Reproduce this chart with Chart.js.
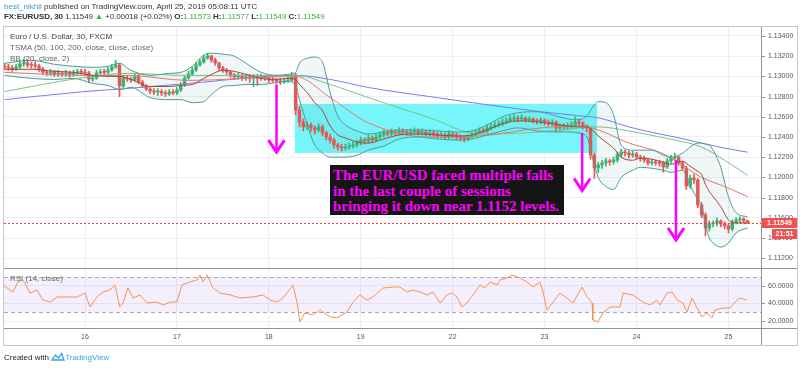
<!DOCTYPE html>
<html>
<head>
<meta charset="utf-8">
<script src="https://cdn.jsdelivr.net/npm/chart.js@4.4.1/dist/chart.umd.min.js"></script>
<style>
  body { margin: 0; background: #fff; }
  #wrap { position: relative; width: 800px; height: 368px; overflow: hidden; font-family: "Liberation Sans", Arial, sans-serif; }
  #c { position: absolute; left: 0; top: 0; }
  .t { position: absolute; white-space: nowrap; font-size: 8px; line-height: 10px; color: #333; }
  .g { color: #34b33d; }
  .leg { color: #666; }
  #note { position: absolute; left: 330px; top: 165px; width: 234px; height: 50px; background: #151515;
          box-sizing: border-box; padding: 3px 0 0 3px; font-family: "Liberation Serif", "Times New Roman", serif;
          font-weight: bold; font-size: 15px; line-height: 15.5px; color: #f0f; white-space: nowrap; }
</style>
</head>
<body>
<div id="wrap">
  <canvas id="c" width="800" height="368"></canvas>
  <div class="t" style="left:4px;top:2px"><span style="color:#3a9ad9">best_nikhil</span> published on TradingView.com, April 25, 2019 05:08:11 UTC</div>
  <div class="t" style="left:4px;top:12px;letter-spacing:-0.08px"><b>FX:EURUSD, 30</b> 1.11549 <span class="g">▲</span> +0.00018 (+0.02%) <b>O:</b><span class="g">1.11573</span> <b>H:</b><span class="g">1.11577</span> <b>L:</b><span class="g">1.11549</span> <b>C:</b><span class="g">1.11549</span></div>
  <div class="t" style="left:10px;top:32px;color:#444">Euro / U.S. Dollar, 30, FXCM</div>
  <div class="t leg" style="left:10px;top:43px">TSMA (50, 100, 200, close, close, close)</div>
  <div class="t leg" style="left:10px;top:54px">BB (20, close, 2)</div>
  <div class="t leg" style="left:10px;top:274px">RSI (14, close)</div>
  <div id="note">The EUR/USD faced multiple falls<br>in the last couple of sessions<br>bringing it down near 1.1152 levels.</div>
  <div class="t" style="left:4px;top:352px;color:#222">Created with
    <svg width="14" height="9" style="vertical-align:-1px"><path d="M1 8 L4.5 3 L7.5 6 L10.5 1.5 L13 8 Z" fill="none" stroke="#39a3e0" stroke-width="1.3"/></svg><span style="color:#39a3e0">TradingView</span></div>
</div>
<script>
// x = hours from Apr 16 00:00 on the trading timeline (weekend skipped), hourly candles
const dayTicks = [0, 24, 48, 72, 96, 120, 144, 168];
const dayLabels = ['16', '17', '18', '19', '22', '23', '24', '25'];
const priceTicks = [1.112, 1.114, 1.116, 1.118, 1.120, 1.122, 1.124, 1.126, 1.128, 1.130, 1.132, 1.134];
const rsiTicks = [20, 40, 60];
const rsiBand = [30, 70];

const firstIdx = -21;
const firstOpen = 1.13100;
const closes = [
  1.13093, 1.13083, 1.13073, 1.13093, 1.13123, 1.13133, 1.13113, 1.13110, 1.13103, 1.13073,
  1.13044, 1.13034, 1.13044, 1.13024, 1.13034, 1.13024, 1.13034, 1.13020, 1.13034, 1.13044,
  1.13040, 1.13034, 1.12974, 1.12984, 1.13034, 1.13044, 1.13040, 1.13063, 1.13093, 1.13113,
  1.12905, 1.12984, 1.12974, 1.12964, 1.13004, 1.12945, 1.12905, 1.12875, 1.12855, 1.12846,
  1.12850, 1.12836, 1.12826, 1.12846, 1.12836, 1.12865, 1.12915, 1.12984, 1.13024, 1.13063,
  1.13113, 1.13143, 1.13182, 1.13202, 1.13162, 1.13133, 1.13083, 1.13063, 1.13044, 1.13014,
  1.12994, 1.13004, 1.12984, 1.12994, 1.12984, 1.12994, 1.12984, 1.12994, 1.12984, 1.12964,
  1.12960, 1.12955, 1.12945, 1.12955, 1.12964, 1.13014, 1.12667, 1.12549, 1.12499, 1.12519,
  1.12489, 1.12469, 1.12499, 1.12440, 1.12400, 1.12370, 1.12321, 1.12301, 1.12291, 1.12301,
  1.12311, 1.12321, 1.12341, 1.12370, 1.12361, 1.12390, 1.12370, 1.12400, 1.12420, 1.12440,
  1.12430, 1.12450, 1.12440, 1.12460, 1.12450, 1.12440, 1.12450, 1.12460, 1.12440, 1.12450,
  1.12430, 1.12440, 1.12430, 1.12410, 1.12420, 1.12400, 1.12430, 1.12420, 1.12400, 1.12390,
  1.12380, 1.12400, 1.12420, 1.12440, 1.12460, 1.12455, 1.12489, 1.12499, 1.12519, 1.12529,
  1.12549, 1.12559, 1.12578, 1.12588, 1.12578, 1.12588, 1.12568, 1.12578, 1.12559, 1.12555,
  1.12568, 1.12549, 1.12539, 1.12549, 1.12489, 1.12509, 1.12499, 1.12509, 1.12519, 1.12549,
  1.12539, 1.12509, 1.12489, 1.12222, 1.12093, 1.12123, 1.12143, 1.12163, 1.12153, 1.12172,
  1.12222, 1.12252, 1.12242, 1.12222, 1.12232, 1.12202, 1.12192, 1.12172, 1.12143, 1.12153,
  1.12143, 1.12140, 1.12103, 1.12163, 1.12192, 1.12202, 1.12143, 1.12093, 1.11915, 1.11994,
  1.11974, 1.11727, 1.11628, 1.11499, 1.11539, 1.11549, 1.11569, 1.11539, 1.11519, 1.11489,
  1.11559, 1.11578, 1.11588, 1.11573, 1.11549
];
const highs = [
  1.1313, 1.1312, 1.1311, 1.1312, 1.1315, 1.1317, 1.1316, 1.1314, 1.1314, 1.1312,
  1.1309, 1.1306, 1.1307, 1.1306, 1.1306, 1.1305, 1.1306, 1.1305, 1.1306, 1.1307,
  1.1307, 1.1307, 1.1305, 1.1301, 1.1306, 1.1307, 1.1307, 1.1309, 1.1312, 1.1316,
  1.1313, 1.1301, 1.1301, 1.1299, 1.1303, 1.1302, 1.1296, 1.1292, 1.1289, 1.1288,
  1.1288, 1.1287, 1.1286, 1.1287, 1.1287, 1.1289, 1.1294, 1.1300, 1.1305, 1.1309,
  1.1314, 1.1317, 1.1321, 1.1323, 1.1321, 1.1318, 1.1314, 1.1310, 1.1308, 1.1305,
  1.1303, 1.1303, 1.1302, 1.1302, 1.1302, 1.1302, 1.1302, 1.1302, 1.1301, 1.1300,
  1.1299, 1.1298, 1.1298, 1.1298, 1.1300, 1.1304, 1.1303, 1.1270, 1.1258, 1.1255,
  1.1254, 1.1251, 1.1253, 1.1252, 1.1246, 1.1243, 1.1239, 1.1234, 1.1233, 1.1233,
  1.1234, 1.1235, 1.1237, 1.1240, 1.1239, 1.1242, 1.1241, 1.1243, 1.1245, 1.1247,
  1.1246, 1.1248, 1.1247, 1.1249, 1.1248, 1.1247, 1.1248, 1.1249, 1.1248, 1.1248,
  1.1247, 1.1247, 1.1246, 1.1245, 1.1245, 1.1244, 1.1246, 1.1245, 1.1244, 1.1242,
  1.1241, 1.1242, 1.1245, 1.1247, 1.1249, 1.1249, 1.1252, 1.1253, 1.1255, 1.1256,
  1.1258, 1.1259, 1.1261, 1.1262, 1.1261, 1.1262, 1.1260, 1.1260, 1.1259, 1.1258,
  1.1259, 1.1258, 1.1257, 1.1257, 1.1256, 1.1253, 1.1253, 1.1254, 1.1255, 1.1260,
  1.1258, 1.1255, 1.1252, 1.1250, 1.1224, 1.1215, 1.1217, 1.1219, 1.1218, 1.1220,
  1.1225, 1.1228, 1.1227, 1.1226, 1.1226, 1.1225, 1.1222, 1.1221, 1.1219, 1.1218,
  1.1217, 1.1217, 1.1216, 1.1219, 1.1222, 1.1224, 1.1221, 1.1216, 1.1211, 1.1202,
  1.1203, 1.1199, 1.1175, 1.1165, 1.1157, 1.1157, 1.1160, 1.1158, 1.1156, 1.1154,
  1.1158, 1.1160, 1.1161, 1.1160, 1.11577
];
const lows = [
  1.1307, 1.1306, 1.1305, 1.1306, 1.1308, 1.1310, 1.1309, 1.1308, 1.1308, 1.1305,
  1.1302, 1.1301, 1.1301, 1.1300, 1.1300, 1.1300, 1.1300, 1.1299, 1.1300, 1.1301,
  1.1302, 1.1301, 1.1294, 1.1295, 1.1297, 1.1302, 1.1302, 1.1303, 1.1305, 1.1308,
  1.1280, 1.1289, 1.1295, 1.1294, 1.1295, 1.1293, 1.1289, 1.1286, 1.1283, 1.1282,
  1.1281, 1.1281, 1.1280, 1.1281, 1.1282, 1.1282, 1.1285, 1.1290, 1.1297, 1.1301,
  1.1305, 1.1310, 1.1313, 1.1317, 1.1314, 1.1311, 1.1306, 1.1304, 1.1302, 1.1299,
  1.1297, 1.1297, 1.1296, 1.1296, 1.1294, 1.1290, 1.1291, 1.1296, 1.1296, 1.1294,
  1.1294, 1.1293, 1.1292, 1.1293, 1.1294, 1.1295, 1.1262, 1.1250, 1.1246, 1.1247,
  1.1245, 1.1243, 1.1245, 1.1241, 1.1237, 1.1234, 1.1229, 1.1227, 1.1226, 1.1227,
  1.1228, 1.1229, 1.1230, 1.1232, 1.1233, 1.1234, 1.1235, 1.1236, 1.1238, 1.1240,
  1.1241, 1.1241, 1.1242, 1.1242, 1.1243, 1.1242, 1.1242, 1.1243, 1.1242, 1.1242,
  1.1241, 1.1241, 1.1240, 1.1239, 1.1239, 1.1238, 1.1238, 1.1239, 1.1237, 1.1236,
  1.1235, 1.1236, 1.1239, 1.1241, 1.1243, 1.1243, 1.1244, 1.1247, 1.1249, 1.1250,
  1.1251, 1.1253, 1.1255, 1.1256, 1.1255, 1.1256, 1.1255, 1.1255, 1.1254, 1.1253,
  1.1253, 1.1252, 1.1251, 1.1251, 1.1245, 1.1246, 1.1247, 1.1247, 1.1249, 1.1250,
  1.1251, 1.1248, 1.1245, 1.1218, 1.1199, 1.1205, 1.1209, 1.1211, 1.1212, 1.1213,
  1.1215, 1.1220, 1.1221, 1.1219, 1.1220, 1.1218, 1.1216, 1.1215, 1.1212, 1.1212,
  1.1212, 1.1211, 1.1205, 1.1209, 1.1214, 1.1217, 1.1212, 1.1207, 1.1188, 1.1189,
  1.1194, 1.1170, 1.1160, 1.1142, 1.1147, 1.1151, 1.1152, 1.1151, 1.1149, 1.1145,
  1.1147, 1.1154, 1.1155, 1.1155, 1.11549
];

// Bollinger Bands (20, close, 2)
const bbX = [-21, -14, -8, -3, 2, 6, 9, 12, 17, 22, 25, 28, 31, 33, 36, 39, 42, 46, 50, 53,
  55, 56, 58, 60, 62, 64, 66, 68, 71, 74, 78, 82, 87, 92, 97, 101, 105, 109, 113, 118,
  122, 126, 129, 131, 133, 134, 136, 138, 140, 143, 145, 148, 151, 153, 156, 158, 160, 161, 162, 163,
  164, 166, 168, 170, 173];
const bbUpper = [1.1313, 1.1316, 1.1312, 1.1310, 1.1309, 1.1310, 1.1313, 1.1306, 1.1301, 1.1303,
  1.1304, 1.1310, 1.1321, 1.1323, 1.1322, 1.1320, 1.1313, 1.1304, 1.1301, 1.1302,
  1.1304, 1.1313, 1.1318, 1.1319, 1.1314, 1.1284, 1.1261, 1.1252, 1.1246, 1.1243,
  1.1245, 1.1247, 1.1247, 1.1246, 1.1245, 1.1246, 1.1252, 1.1260, 1.1264, 1.1265,
  1.1262, 1.1258, 1.1257, 1.1261, 1.1272, 1.1275, 1.1274, 1.1262, 1.1232, 1.1227,
  1.1227, 1.1227, 1.1222, 1.1220, 1.1224, 1.1230, 1.1234, 1.1234, 1.1233, 1.1232,
  1.1227, 1.1210, 1.1181, 1.1165, 1.1161];
const bbMid = [1.1307, 1.1307, 1.1305, 1.1304, 1.1301, 1.1300, 1.1300, 1.1297, 1.1290, 1.1290,
  1.1291, 1.1292, 1.1298, 1.1302, 1.1306, 1.1305, 1.1302, 1.1298, 1.1297, 1.1298,
  1.1297, 1.1292, 1.1284, 1.1274, 1.1266, 1.1251, 1.1242, 1.1239, 1.1235, 1.1234,
  1.1238, 1.1242, 1.1243, 1.1242, 1.1241, 1.1242, 1.1247, 1.1253, 1.1256, 1.1255,
  1.1253, 1.1251, 1.1250, 1.1250, 1.1245, 1.1241, 1.1235, 1.1229, 1.1220, 1.1217,
  1.1219, 1.1218, 1.1215, 1.1213, 1.1216, 1.1211, 1.1206, 1.1203, 1.1193, 1.1186,
  1.1181, 1.1171, 1.1158, 1.1155, 1.1155];
const bbLower = [1.1301, 1.1298, 1.1297, 1.1298, 1.1293, 1.1291, 1.1287, 1.1289, 1.1279, 1.1277,
  1.1277, 1.1274, 1.1275, 1.1282, 1.1290, 1.1291, 1.1292, 1.1292, 1.1294, 1.1295,
  1.1291, 1.1277, 1.1252, 1.1232, 1.1224, 1.1220, 1.1220, 1.1220, 1.1222, 1.1227,
  1.1231, 1.1238, 1.1240, 1.1238, 1.1237, 1.1238, 1.1242, 1.1246, 1.1249, 1.1246,
  1.1245, 1.1245, 1.1244, 1.1240, 1.1212, 1.1200, 1.1191, 1.1188, 1.1200, 1.1207,
  1.1210, 1.1209, 1.1207, 1.1205, 1.1207, 1.1192, 1.1178, 1.1173, 1.1153, 1.1140,
  1.1135, 1.1131, 1.1135, 1.1145, 1.1150];

// TSMA (50, 100, 200)
const maX = [-21, 0, 11, 27, 55, 64, 74, 90, 103, 119, 129, 134, 142, 150, 154, 161, 167, 173];
const tsma50 = [1.1304, 1.1301, 1.1301, 1.1296, 1.1300, 1.1279, 1.1254, 1.1240, 1.1241, 1.1249,
  1.1251, 1.1247, 1.1234, 1.1225, 1.1217, 1.1200, 1.1191, 1.1181];
const tsma100 = [1.1285, 1.1299, 1.1303, 1.1301, 1.1301, 1.1292, 1.1279, 1.1259, 1.1243, 1.1245,
  1.1249, 1.1250, 1.1246, 1.1240, 1.1237, 1.1230, 1.1217, 1.1202];
const tsma200 = [1.1277, 1.1285, 1.1288, 1.1293, 1.1301, 1.1297, 1.1289, 1.1280, 1.1273, 1.1265,
  1.1261, 1.1259, 1.1250, 1.1243, 1.1240, 1.1234, 1.1229, 1.1225];

// RSI (14, close)
const rsiX = [-21.4, -19.6, -18.8, -17.5, -16.4, -15.7, -14.4, -12.5, -11, -9.1,
  -7.3, -4.7, -2.1, 0, 1.3, 3.1, 4.7, 6.5, 7.8, 9.1,
  9.9, 11.2, 12.5, 14.4, 16.2, 18.8, 20.4, 22.2, 24, 25.3,
  27.4, 29.2, 30, 30.8, 31.9, 33.4, 35.2, 37.9, 40.5, 43.9,
  46.5, 48.3, 50.1, 51.7, 54.3, 55.4, 56.1, 57.4, 59.5, 61.4,
  64, 65.8, 68.4, 70, 71.8, 73.6, 75.2, 77.8, 80.4, 82.2,
  84.1, 85.6, 87.5, 89.3, 90.9, 92.7, 94.5, 95.8, 97.1, 98.4,
  99.7, 101.3, 103.1, 104.4, 105.7, 107.6, 108.4, 110.2, 111.5, 113.6,
  115.4, 117, 118.8, 119.6, 120.6, 122.2, 124, 125.8, 127.4, 129.8,
  131.1, 132.4, 132.6, 133.9, 135.2, 137.1, 139.7, 140.5, 143.1, 144.1,
  145.7, 147.5, 149.3, 150.1, 152, 153.3, 154.6, 156.1, 157.2, 158.5,
  159.8, 161.1, 162.4, 163.7, 164.5, 166.6, 168.4, 169.7, 171, 172.8];
const rsiVal = [60.8, 55.1, 52.9, 64.2, 66.5, 63.1, 51.7, 55.1, 43.8, 41.5,
  47.2, 47.2, 47.2, 51.7, 35.9, 47.2, 52.9, 55.1, 60.8, 35.9,
  40.4, 57.4, 46.1, 49.5, 40.4, 41.5, 38.1, 41.5, 41.5, 60.8,
  64.2, 66.5, 72.1, 64.2, 72.1, 57.4, 51.7, 49.5, 46.1, 47.2,
  49.5, 43.8, 41.5, 46.1, 60.8, 40.4, 18.9, 29.1, 26.9, 32.5,
  24.6, 23.5, 30.2, 41.5, 49.5, 43.8, 47.2, 57.4, 58.5, 58.5,
  52.9, 55.1, 52.9, 49.5, 52.9, 40.4, 49.5, 51.7, 47.2, 35.9,
  40.4, 49.5, 60.8, 57.4, 64.2, 60.8, 66.5, 68.7, 72.1, 68.7,
  64.2, 58.5, 64.2, 52.9, 32.5, 41.5, 51.7, 46.1, 40.4, 58.5,
  47.2, 40.4, 21.2, 18.9, 29.1, 35.9, 35.9, 51.7, 49.5, 46.1,
  41.5, 38.1, 43.8, 38.1, 51.7, 52.9, 43.8, 40.4, 30.2, 46.1,
  34.7, 24.6, 29.1, 23.5, 32.5, 34.7, 34.7, 41.5, 46.1, 43.8];

// drawings on the chart: consolidation box [x0, x1, top, bottom], arrows [x, from, to]
const boxZone = [54.8, 133.7, 1.12727, 1.12242];
const arrows = [[50.0, 1.1292, 1.1225], [129.8, 1.1244, 1.1187], [154.3, 1.1217, 1.1138]];
const countdown = '21:51';

Chart.defaults.font.family = '"Liberation Sans", Arial, sans-serif';

const candleX = closes.map((c, i) => firstIdx + i);
const opens = closes.map((c, i) => i === 0 ? firstOpen : closes[i - 1]);
const lastClose = closes[closes.length - 1];
const candleColor = c => closes[c.dataIndex] >= opens[c.dataIndex] ? '#3ab56e' : '#ef5350';
const pts = (xs, ys) => xs.map((x, i) => ({ x, y: ys[i] }));

const lineDs = (label, xs, ys, color, extra) => Object.assign({
  type: 'line', label, yAxisID: 'y', data: pts(xs, ys), borderColor: color,
  borderWidth: 1, pointRadius: 0, cubicInterpolationMode: 'monotone'
}, extra || {});

const overlay = {
  id: 'overlay',
  beforeDatasetsDraw(chart) {
    const { ctx, chartArea: a, scales: { x, y, rsi } } = chart;
    ctx.save();
    // cyan consolidation box
    const bx0 = x.getPixelForValue(boxZone[0]), bx1 = x.getPixelForValue(boxZone[1]);
    const by0 = y.getPixelForValue(boxZone[2]), by1 = y.getPixelForValue(boxZone[3]);
    ctx.fillStyle = 'rgb(118,245,250)';
    ctx.fillRect(bx0, by0, bx1 - bx0, by1 - by0);
    // rsi band
    const r70 = rsi.getPixelForValue(rsiBand[1]), r30 = rsi.getPixelForValue(rsiBand[0]);
    ctx.fillStyle = 'rgba(150,100,240,0.1)';
    ctx.fillRect(a.left, r70, a.right - a.left, r30 - r70);
    ctx.strokeStyle = '#a9a9b3';
    ctx.lineWidth = 1;
    ctx.setLineDash([4, 3]);
    [r70, r30].forEach(p => {
      ctx.beginPath();
      ctx.moveTo(a.left, Math.round(p) + 0.5);
      ctx.lineTo(a.right, Math.round(p) + 0.5);
      ctx.stroke();
    });
    ctx.restore();
  },
  afterDatasetsDraw(chart) {
    const { ctx, chartArea: a, scales: { x, y } } = chart;
    ctx.save();
    // last price line
    const py = Math.round(y.getPixelForValue(lastClose)) + 0.5;
    ctx.strokeStyle = '#f03c3c';
    ctx.lineWidth = 1;
    ctx.setLineDash([2, 2]);
    ctx.beginPath();
    ctx.moveTo(a.left, py);
    ctx.lineTo(a.right, py);
    ctx.stroke();
    ctx.setLineDash([]);
    // magenta arrows
    ctx.strokeStyle = '#ff00ff';
    arrows.forEach(([ax, p0, p1]) => {
      const px = x.getPixelForValue(ax);
      const y0 = y.getPixelForValue(p0), y1 = y.getPixelForValue(p1);
      ctx.lineWidth = 2.5;
      ctx.beginPath();
      ctx.moveTo(px, y0);
      ctx.lineTo(px, y1);
      ctx.stroke();
      ctx.lineWidth = 3;
      ctx.beginPath();
      ctx.moveTo(px - 8, y1 - 12);
      ctx.lineTo(px, y1);
      ctx.lineTo(px + 8, y1 - 12);
      ctx.stroke();
    });
    ctx.restore();
  },
  afterDraw(chart) {
    const { ctx, chartArea: a, scales: { y, rsi } } = chart;
    ctx.save();
    ctx.lineWidth = 1;
    ctx.strokeStyle = '#c3c8ce';
    ctx.strokeRect(3.5, 26.5, 794, 319);
    ctx.strokeStyle = '#8f949a';
    ctx.beginPath();
    ctx.moveTo(a.right + 0.5, 27); ctx.lineTo(a.right + 0.5, 345);
    const sep = Math.round(rsi.top) + 0.5;
    ctx.moveTo(4, sep); ctx.lineTo(797, sep);
    ctx.moveTo(4, a.bottom + 0.5); ctx.lineTo(797, a.bottom + 0.5);
    ctx.stroke();
    // small tick marks on the price and rsi axes
    ctx.strokeStyle = '#8f949a';
    ctx.beginPath();
    priceTicks.forEach(v => { const p = Math.round(y.getPixelForValue(v)) + 0.5; ctx.moveTo(a.right + 1, p); ctx.lineTo(a.right + 4, p); });
    rsiTicks.forEach(v => { const p = Math.round(rsi.getPixelForValue(v)) + 0.5; ctx.moveTo(a.right + 1, p); ctx.lineTo(a.right + 4, p); });
    ctx.stroke();
    // price + countdown tags on the axis
    const py = Math.round(y.getPixelForValue(lastClose));
    ctx.fillStyle = '#ef5350';
    ctx.fillRect(a.right + 1, py - 5, 35, 10);
    ctx.fillRect(a.right + 11, py + 6, 25, 10);
    ctx.fillStyle = '#fff';
    ctx.font = 'bold 7px "Liberation Sans", Arial, sans-serif';
    ctx.textAlign = 'center';
    ctx.textBaseline = 'middle';
    ctx.fillText(lastClose.toFixed(5), a.right + 18.5, py + 0.5);
    ctx.fillText(countdown, a.right + 23.5, py + 11.5);
    ctx.restore();
  }
};

new Chart(document.getElementById('c'), {
  type: 'bar',
  data: {
    datasets: [
      { type: 'line', label: 'RSI', yAxisID: 'rsi', data: pts(rsiX, rsiVal), borderColor: '#f7934c', borderWidth: 1, pointRadius: 0 },
      lineDs('BB basis', bbX, bbMid, '#9a4b3c'),
      lineDs('BB upper', bbX, bbUpper, '#4c9c98'),
      lineDs('BB lower', bbX, bbLower, '#4c9c98', { fill: '-1', backgroundColor: 'rgba(76,156,152,0.08)' }),
      lineDs('TSMA 50', maX, tsma50, '#f0736b'),
      lineDs('TSMA 100', maX, tsma100, '#7cc47c'),
      lineDs('TSMA 200', maX, tsma200, '#7b7bf2'),
      { type: 'bar', label: 'body', yAxisID: 'y', data: candleX.map((x, i) => ({ x, y: [opens[i], closes[i]] })),
        backgroundColor: candleColor, barThickness: 2.8, grouped: false, minBarLength: 1 },
      { type: 'bar', label: 'wick', yAxisID: 'y', data: candleX.map((x, i) => ({ x, y: [lows[i], highs[i]] })),
        backgroundColor: candleColor, barThickness: 1, grouped: false }
    ]
  },
  options: {
    responsive: false,
    animation: false,
    devicePixelRatio: 1,
    layout: { padding: { left: 4, top: 27, right: 3, bottom: 23 } },
    plugins: { legend: { display: false }, tooltip: { enabled: false } },
    scales: {
      x: {
        type: 'linear', min: -21.15, max: 176.5, offset: false,
        grid: { color: '#eceff3', drawTicks: false, offset: false },
        border: { display: false },
        afterBuildTicks: s => { s.ticks = dayTicks.map(v => ({ value: v })); },
        ticks: { padding: 5, color: '#555', font: { size: 7 }, maxRotation: 0, callback: (v, i) => dayLabels[i] },
        afterFit: s => { s.height = 17; }
      },
      y: {
        position: 'right', stack: 'panes', stackWeight: 241,
        min: 1.11103, max: 1.13489,
        grid: { color: '#eceff3', drawTicks: false },
        border: { display: false },
        afterBuildTicks: s => { s.ticks = priceTicks.map(v => ({ value: v })); },
        ticks: { padding: 7, color: '#555', font: { size: 7 }, callback: v => v.toFixed(5) },
        afterFit: s => { s.width = 36; }
      },
      rsi: {
        position: 'right', stack: 'panes', stackWeight: 60,
        min: 12.07, max: 80.06,
        grid: { color: '#eceff3', drawTicks: false },
        border: { display: false },
        afterBuildTicks: s => { s.ticks = rsiTicks.map(v => ({ value: v })); },
        ticks: { padding: 7, color: '#555', font: { size: 7 }, callback: v => v.toFixed(4) },
        afterFit: s => { s.width = 36; }
      }
    }
  },
  plugins: [overlay]
});
</script>
</body>
</html>
